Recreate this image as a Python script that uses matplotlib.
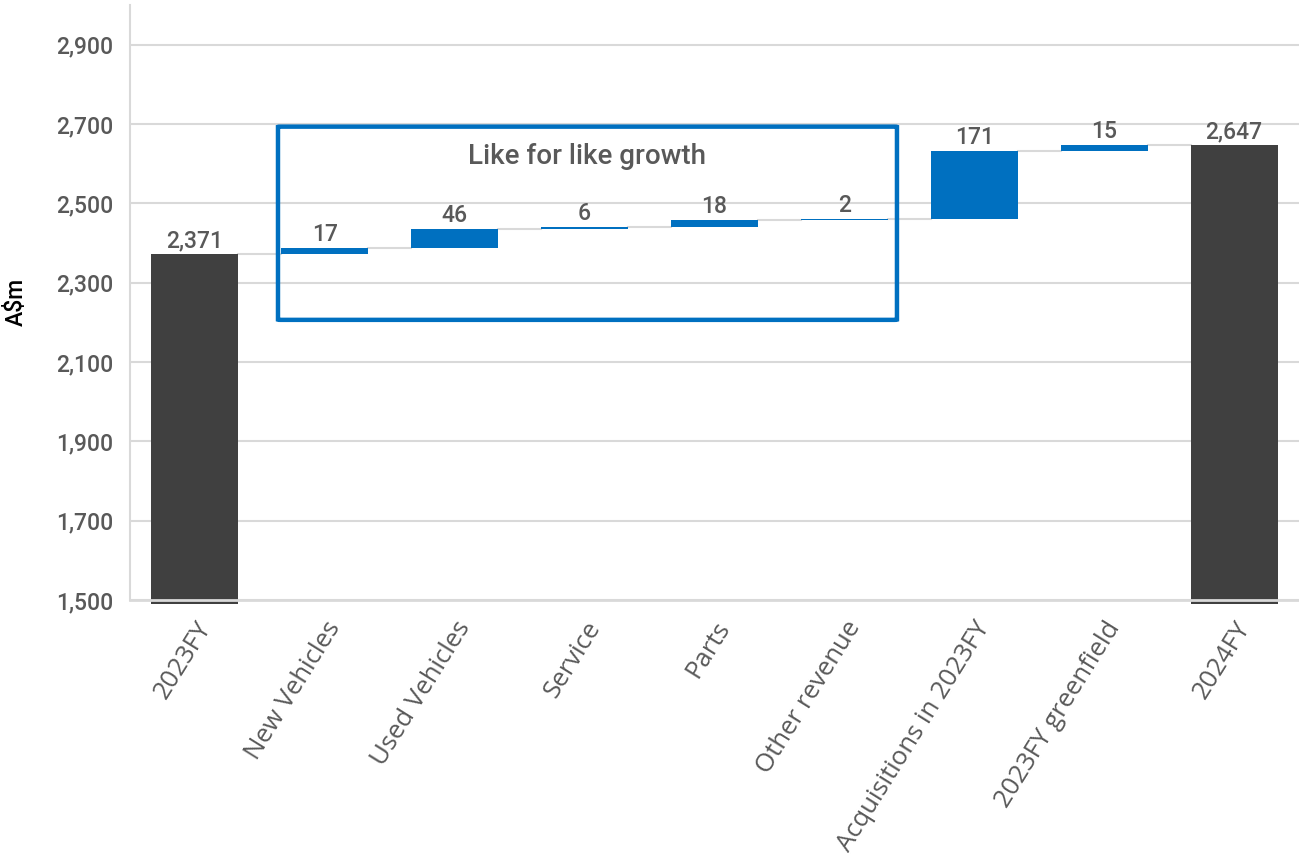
import matplotlib
matplotlib.use('Agg')
import matplotlib.pyplot as plt
from matplotlib.patches import FancyBboxPatch

categories = ["2023FY", "New Vehicles", "Used Vehicles", "Service", "Parts",
              "Other revenue", "Acquisitions in 2023FY", "2023FY greenfield", "2024FY"]
start_value = 2371
changes = [17, 46, 6, 18, 2, 171, 15]
end_value = 2647
y_ticks = [1500, 1700, 1900, 2100, 2300, 2500, 2700, 2900]

BLUE = "#0070C0"
DARK = "#404040"
TEXT = "#595959"
GRID = "#D9D9D9"
NUM_FONT = "Roboto"

fig = plt.figure(figsize=(12.99, 8.65), dpi=100)
ax = fig.add_axes([0.1, 0.3064, 0.9, 0.688])

width = 0.67
floor = 1490

# totals
ax.bar(0, start_value - floor, bottom=floor, width=width, color=DARK, clip_on=False, zorder=2)
ax.bar(len(categories) - 1, end_value - floor, bottom=floor, width=width, color=DARK, clip_on=False, zorder=2)
ax.text(0, start_value + 5, f"{start_value:,}", ha="center", va="bottom",
        fontsize=16.5, color=TEXT, family=NUM_FONT, fontweight="medium")
ax.text(len(categories) - 1, end_value + 5, f"{end_value:,}", ha="center", va="bottom",
        fontsize=16.5, color=TEXT, family=NUM_FONT, fontweight="medium")

# floating steps
level = start_value
for i, c in enumerate(changes, start=1):
    ax.plot([i - 1 + width / 2, i - width / 2], [level, level], color=GRID, lw=1.5, zorder=1)
    ax.bar(i, c, bottom=level, width=width, color=BLUE, zorder=2)
    level += c
    ax.text(i, level + 5, f"{c:,}", ha="center", va="bottom",
            fontsize=16.5, color=TEXT, family=NUM_FONT, fontweight="medium")
ax.plot([len(changes) + width / 2, len(changes) + 1 - width / 2], [level, level],
        color=GRID, lw=1.5, zorder=1)

# like for like box
box = FancyBboxPatch((0.64, 2206), 4.765, 487, boxstyle="round,pad=0,rounding_size=0.02",
                     fill=False, edgecolor=BLUE, lw=3.2, zorder=3, mutation_aspect=30)
ax.add_patch(box)
ax.text(3.02, 2617, "Like for like growth", ha="center", va="center",
        fontsize=20, color=TEXT, family=NUM_FONT, fontweight="medium")

ax.set_xlim(-0.5, 8.5)
ax.set_ylim(1500, 3000)
ax.set_yticks(y_ticks)
ax.set_yticklabels([f"{v:,}" for v in y_ticks], fontsize=16.5, color=TEXT,
                   family=NUM_FONT, fontweight="medium")
ax.set_xticks(range(len(categories)))
ax.set_xticklabels(categories, rotation=58, ha="right", rotation_mode="anchor",
                   fontsize=18.5, color=TEXT, family="Open Sans")
ax.tick_params(axis="both", length=0)
ax.tick_params(axis="y", pad=12)
ax.tick_params(axis="x", pad=12)
ax.grid(axis="y", color=GRID, lw=1.5, zorder=0)
ax.set_axisbelow(True)
for s in ["top", "right"]:
    ax.spines[s].set_visible(False)
ax.spines["left"].set_color(GRID)
ax.spines["left"].set_linewidth(1.5)
ax.spines["bottom"].set_color(GRID)
ax.spines["bottom"].set_linewidth(2)
ax.spines["bottom"].set_zorder(4)
ax.set_ylabel("A$m", fontsize=16.5, color="black", family=NUM_FONT,
              fontweight="medium", labelpad=20)

fig.savefig("out.png", dpi=100)
